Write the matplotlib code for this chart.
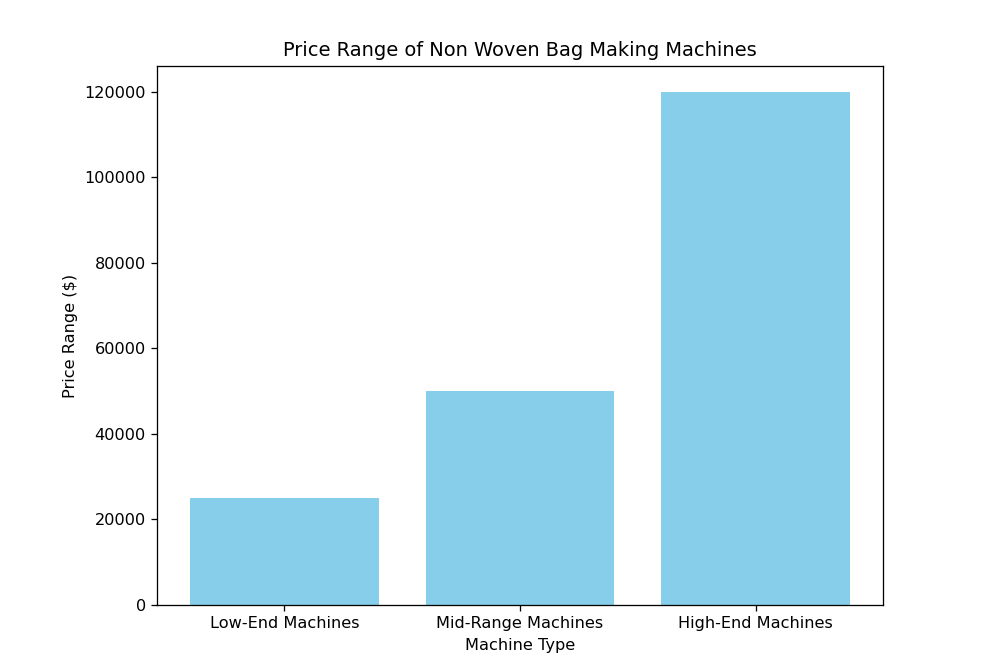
import matplotlib.pyplot as plt

machine_types = ["Low-End Machines", "Mid-Range Machines", "High-End Machines"]
prices = [25000, 50000, 120000]


def plot_prices():
    dpi = 116
    fig = plt.figure(figsize=(984 / dpi, 663 / dpi), dpi=dpi)
    ax = fig.add_axes([0.1596, 0.0875, 0.7378, 0.813])
    ax.bar(machine_types, prices, color="skyblue")
    ax.set_xlabel("Machine Type")
    ax.set_ylabel("Price Range ($)")
    ax.set_title("Price Range of Non Woven Bag Making Machines")
    fig.savefig("out.png", dpi=dpi)


if __name__ == "__main__":
    plot_prices()
